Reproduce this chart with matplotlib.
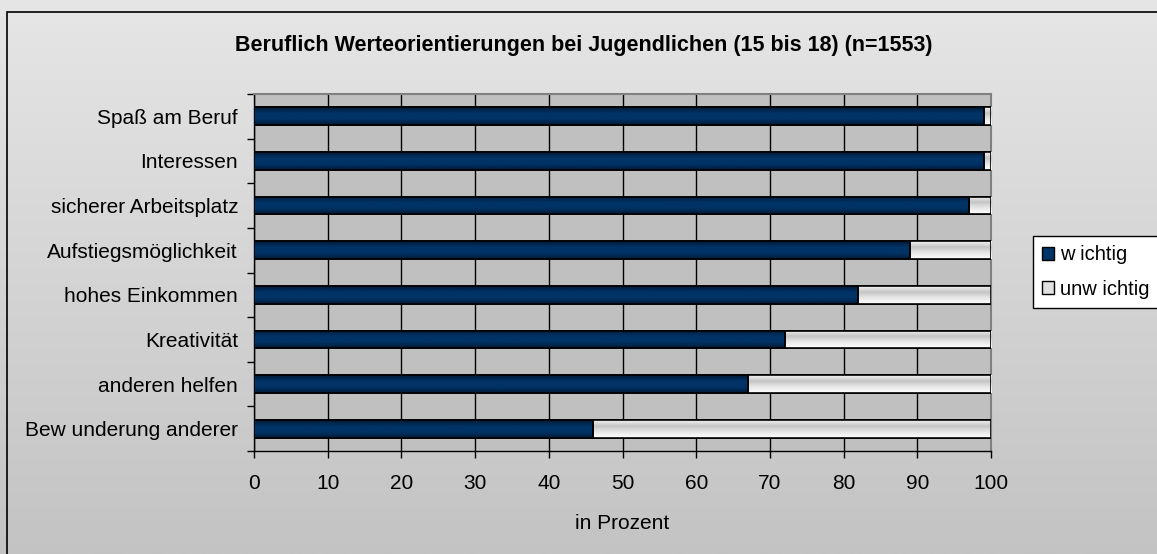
import numpy as np
import matplotlib
matplotlib.use("Agg")
import matplotlib.pyplot as plt
from matplotlib.colors import LinearSegmentedColormap
from matplotlib.patches import Patch, Rectangle

# Daten (von oben nach unten)
kategorien = ["Spaß am Beruf", "Interessen", "sicherer Arbeitsplatz",
              "Aufstiegsmöglichkeit", "hohes Einkommen", "Kreativität",
              "anderen helfen", "Bew underung anderer"]
wichtig = [99, 99, 97, 89, 82, 72, 67, 46]
unwichtig = [1, 1, 3, 11, 18, 28, 33, 54]
x_ticks = [0, 10, 20, 30, 40, 50, 60, 70, 80, 90, 100]

plt.rcParams['font.family'] = ['Liberation Sans', 'DejaVu Sans']

fig = plt.figure(figsize=(11.57, 5.54), dpi=100)

# Hintergrund mit Verlauf
bg = fig.add_axes([0, 0, 1, 1], zorder=-10)
verlauf = np.linspace(0, 1, 256).reshape(-1, 1)
bg_cmap = LinearSegmentedColormap.from_list("bg", ["#e6e6e6", "#c3c3c3"])
bg.imshow(verlauf, cmap=bg_cmap, aspect='auto', extent=[0, 1, 0, 1])
bg.add_patch(Rectangle((7 / 1157, -0.01), 1.1, 1 - 12 / 554 + 0.01,
                       fill=False, edgecolor='black', lw=1.2))
bg.set_xlim(0, 1)
bg.set_ylim(0, 1)
bg.axis('off')

ax = fig.add_axes([254 / 1157, 1 - 451 / 554, 737 / 1157, 357 / 554])
ax.set_facecolor('#c0c0c0')

y = np.arange(len(kategorien))
h = 0.4
dunkel = LinearSegmentedColormap.from_list("d", ["#001a36", "#003366", "#003366", "#001a36"])
hell = LinearSegmentedColormap.from_list("h", ["#f4f4f4", "#c4c4c4", "#e8e8e8", "#ffffff"])

b1 = ax.barh(y, wichtig, height=h, color='#003366', edgecolor='black', lw=1.2, zorder=3)
b2 = ax.barh(y, unwichtig, left=wichtig, height=h, color='#e0e0e0', edgecolor='black', lw=1.2, zorder=3)

def schattieren(bars, cmap):
    for b in bars:
        x0, y0 = b.get_x(), b.get_y()
        w, hh = b.get_width(), b.get_height()
        im = ax.imshow(verlauf, cmap=cmap, aspect='auto',
                       extent=[x0, x0 + w, y0 + hh, y0], zorder=3.5)
        im.set_clip_path(b)
        ax.add_patch(Rectangle((x0, y0), w, hh, fill=False, edgecolor='black', lw=1.2, zorder=4))

schattieren(b1, dunkel)
schattieren(b2, hell)

ax.set_xlim(0, 100)
ax.set_ylim(len(kategorien) - 0.5, -0.5)
ax.set_xticks(x_ticks)
ax.tick_params(axis='x', labelsize=15, length=5, width=1, pad=11.5)
ax.set_yticks(y)
ax.set_yticklabels(kategorien)
ax.tick_params(axis='y', labelsize=15, length=0, pad=11.5)
ax.set_yticks(np.arange(len(kategorien) + 1) - 0.5, minor=True)
ax.tick_params(axis='y', which='minor', length=5, width=1)
ax.xaxis.grid(True, color='black', lw=1, zorder=1)
ax.set_axisbelow(True)
for s in ['top', 'right']:
    ax.spines[s].set_color('#808080')
    ax.spines[s].set_linewidth(1.5)
for s in ['left', 'bottom']:
    ax.spines[s].set_color('black')
    ax.spines[s].set_linewidth(1)

ax.set_xlabel('in Prozent', fontsize=15, labelpad=15)

fig.text(584 / 1157, 1 - 46 / 554, 'Beruflich Werteorientierungen bei Jugendlichen (15 bis 18) (n=1553)',
         ha='center', va='center', fontsize=15.5, fontweight='bold')

handles = [Patch(facecolor='#003366', edgecolor='black', label='w ichtig'),
           Patch(facecolor='#e0e0e0', edgecolor='black', label='unw ichtig')]
leg = fig.legend(handles=handles, loc='center left', bbox_to_anchor=(1033 / 1157, 1 - 272 / 554),
                 fontsize=14.5, frameon=True, fancybox=False, framealpha=1,
                 edgecolor='black', handlelength=0.6, handleheight=0.6, handletextpad=0.3,
                 labelspacing=0.75, borderpad=0.45, borderaxespad=0)
leg.get_frame().set_linewidth(1)

fig.savefig('out.png', dpi=100)
